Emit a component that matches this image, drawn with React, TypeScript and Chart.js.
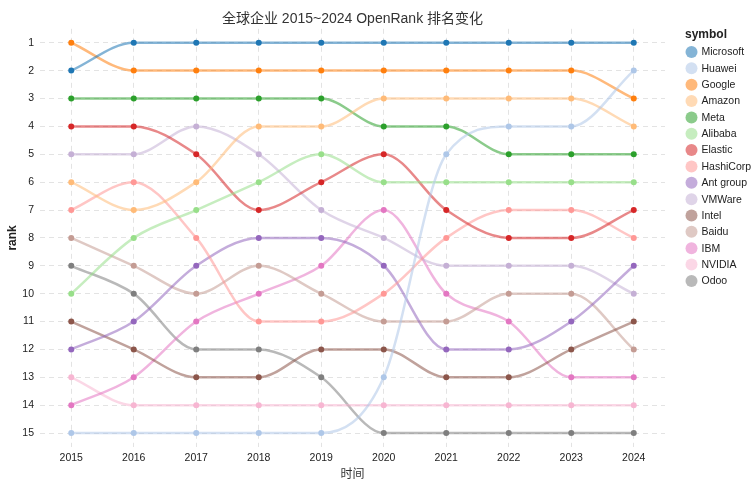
import React, { useEffect, useRef } from "react";
import { Chart, registerables } from "chart.js";

Chart.register(...registerables);

const years = ["2015", "2016", "2017", "2018", "2019", "2020", "2021", "2022", "2023", "2024"];
const rankTicks = [1, 2, 3, 4, 5, 6, 7, 8, 9, 10, 11, 12, 13, 14, 15];

const companies = ["Microsoft", "Huawei", "Google", "Amazon", "Meta", "Alibaba", "Elastic", "HashiCorp", "Ant group", "VMWare", "Intel", "Baidu", "IBM", "NVIDIA", "Odoo"];

const microsoft = [2, 1, 1, 1, 1, 1, 1, 1, 1, 1];
const huawei = [15, 15, 15, 15, 15, 13, 5, 4, 4, 2];
const google = [1, 2, 2, 2, 2, 2, 2, 2, 2, 3];
const amazon = [6, 7, 6, 4, 4, 3, 3, 3, 3, 4];
const meta = [3, 3, 3, 3, 3, 4, 4, 5, 5, 5];
const alibaba = [10, 8, 7, 6, 5, 6, 6, 6, 6, 6];
const elastic = [4, 4, 5, 7, 6, 5, 7, 8, 8, 7];
const hashicorp = [7, 6, 8, 11, 11, 10, 8, 7, 7, 8];
const antGroup = [12, 11, 9, 8, 8, 9, 12, 12, 11, 9];
const vmware = [5, 5, 4, 5, 7, 8, 9, 9, 9, 10];
const intel = [11, 12, 13, 13, 12, 12, 13, 13, 12, 11];
const baidu = [8, 9, 10, 9, 10, 11, 11, 10, 10, 12];
const ibm = [14, 13, 11, 10, 9, 7, 10, 11, 13, 13];
const nvidia = [13, 14, 14, 14, 14, 14, 14, 14, 14, 14];
const odoo = [9, 10, 12, 12, 13, 15, 15, 15, 15, 15];

const seriesValues = [microsoft, huawei, google, amazon, meta, alibaba, elastic, hashicorp, antGroup, vmware, intel, baidu, ibm, nvidia, odoo];

const colors = ["#1f77b4", "#aec7e8", "#ff7f0e", "#ffbb78", "#2ca02c", "#98df8a", "#d62728", "#ff9896", "#9467bd", "#c5b0d5", "#8c564b", "#c49c94", "#e377c2", "#f7b6d2", "#7f7f7f"];

const FONT = "'Liberation Sans', Arial, 'Noto Sans CJK SC', sans-serif";

function alpha(hex: string, a: number) {
  const r = parseInt(hex.slice(1, 3), 16);
  const g = parseInt(hex.slice(3, 5), 16);
  const b = parseInt(hex.slice(5, 7), 16);
  return `rgba(${r},${g},${b},${a})`;
}

const legendPlugin = {
  id: "customLegend",
  afterDraw(chart: any) {
    const ctx = chart.ctx;
    const right = chart.chartArea.right;
    ctx.save();
    ctx.textBaseline = "middle";
    ctx.textAlign = "left";
    ctx.fillStyle = "#222";
    ctx.font = `bold 12px ${FONT}`;
    ctx.fillText("symbol", right + 20, 35);
    ctx.font = `10.5px ${FONT}`;
    chart.data.datasets.forEach((ds: any, i: number) => {
      const y = 52 + i * 16.35;
      ctx.beginPath();
      ctx.arc(right + 26.5, y, 6, 0, Math.PI * 2);
      ctx.fillStyle = alpha(colors[i], 0.55);
      ctx.fill();
      ctx.fillStyle = "#222";
      ctx.fillText(ds.label, right + 36.5, y + 0.5);
    });
    ctx.restore();
  },
};

export default function App() {
  const ref = useRef<HTMLCanvasElement | null>(null);
  useEffect(() => {
    if (!ref.current) return;
    const chart = new Chart(ref.current, {
      type: "line",
      data: {
        labels: years,
        datasets: companies.map((name, i) => ({
          label: name,
          data: seriesValues[i],
          borderColor: alpha(colors[i], 0.55),
          backgroundColor: colors[i],
          pointBackgroundColor: colors[i],
          pointBorderWidth: 0,
          pointRadius: 3,
          borderWidth: 2.5,
          cubicInterpolationMode: "monotone" as const,
          fill: false,
        })),
      },
      options: {
        animation: false,
        responsive: true,
        maintainAspectRatio: false,
        layout: { padding: { left: 0, right: 86, top: 0, bottom: 0 } },
        plugins: {
          legend: { display: false },
          tooltip: { enabled: false },
          title: {
            display: true,
            text: "全球企业 2015~2024 OpenRank 排名变化",
            fullSize: false,
            color: "#333",
            font: { family: FONT, size: 14, weight: "normal" },
            padding: { top: 11, bottom: 1 },
          },
        },
        scales: {
          x: {
            type: "category",
            offset: true,
            grid: { offset: false, color: "#e3e3e3", drawTicks: false, lineWidth: 1 },
            border: { display: false, dash: [5, 4] },
            ticks: { color: "#222", font: { family: FONT, size: 10.5 }, padding: 5, maxRotation: 0 },
            title: { display: true, text: "时间", color: "#333", font: { family: FONT, size: 12, weight: "normal" }, padding: { top: 0, bottom: -2 } },
            afterFit: (s: any) => { s.height = 33; },
          },
          y: {
            type: "linear",
            reverse: true,
            min: 0.5,
            max: 15.5,
            afterBuildTicks: (s: any) => { s.ticks = rankTicks.map((v) => ({ value: v })); },
            grid: { color: "#e3e3e3", drawTicks: false, lineWidth: 1 },
            border: { display: false, dash: [5, 4] },
            ticks: { color: "#222", font: { family: FONT, size: 10.5 }, padding: 6 },
            title: { display: true, text: "rank", color: "#222", font: { family: FONT, size: 12, weight: "bold" }, padding: { top: 5, bottom: 5 } },
            afterFit: (s: any) => { s.width = 40; },
          },
        },
      },
      plugins: [legendPlugin],
    } as any);
    return () => chart.destroy();
  }, []);
  return (
    <div style={{ position: "fixed", left: 0, top: 0, width: 751, height: 480, background: "#fff" }}>
      <canvas ref={ref} />
    </div>
  );
}
